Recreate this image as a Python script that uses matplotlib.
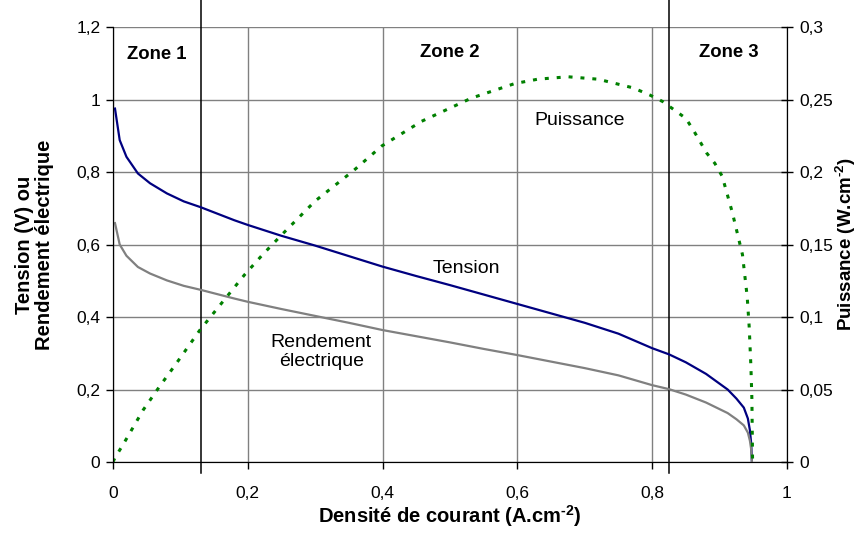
import matplotlib
matplotlib.use("Agg")
import matplotlib.pyplot as plt

plt.rcParams['font.family'] = ['Liberation Sans', 'DejaVu Sans']
plt.rcParams['mathtext.fontset'] = 'custom'
plt.rcParams['mathtext.rm'] = 'Liberation Sans:bold'
plt.rcParams['mathtext.bf'] = 'Liberation Sans:bold'

# courbe de polarisation
x_v = [0.003, 0.01, 0.02, 0.037, 0.055, 0.08, 0.105, 0.13, 0.18, 0.2, 0.25, 0.3,
       0.35, 0.4, 0.45, 0.5, 0.55, 0.6, 0.65, 0.7, 0.75, 0.8, 0.825, 0.85, 0.88,
       0.912, 0.925, 0.936, 0.942, 0.945, 0.947, 0.948]
tension = [0.975, 0.888, 0.842, 0.796, 0.769, 0.741, 0.719, 0.703, 0.667, 0.654,
           0.624, 0.597, 0.568, 0.539, 0.513, 0.488, 0.462, 0.436, 0.41, 0.384,
           0.354, 0.314, 0.297, 0.275, 0.243, 0.20, 0.175, 0.15, 0.12, 0.088,
           0.05, 0.0]
rendement = [0.659, 0.600, 0.569, 0.538, 0.520, 0.501, 0.486, 0.475, 0.451, 0.442,
             0.422, 0.403, 0.384, 0.364, 0.347, 0.330, 0.312, 0.295, 0.277, 0.259,
             0.239, 0.212, 0.201, 0.186, 0.164, 0.135, 0.118, 0.101, 0.081, 0.059,
             0.034, 0.0]

# puissance (axe de droite)
x_p = [0.0, 0.003, 0.015, 0.045, 0.069, 0.094, 0.129, 0.155, 0.195, 0.222, 0.251,
       0.3, 0.357, 0.399, 0.458, 0.532, 0.596, 0.63, 0.675, 0.72, 0.772, 0.797,
       0.816, 0.85, 0.861, 0.881, 0.893, 0.904, 0.919, 0.934, 0.941, 0.944,
       0.9465, 0.948, 0.949]
puissance = [0.0, 0.003, 0.012, 0.036, 0.052, 0.068, 0.091, 0.106, 0.129, 0.143,
             0.157, 0.180, 0.201, 0.218, 0.235, 0.251, 0.261, 0.264, 0.2657, 0.264,
             0.258, 0.253, 0.2485, 0.237, 0.229, 0.213, 0.206, 0.197, 0.172, 0.143,
             0.114, 0.093, 0.066, 0.043, 0.0]

x_ticks = [0, 0.2, 0.4, 0.6, 0.8, 1.0]
x_labels = ['0', '0,2', '0,4', '0,6', '0,8', '1']
y_ticks = [0, 0.2, 0.4, 0.6, 0.8, 1.0, 1.2]
y_labels = ['0', '0,2', '0,4', '0,6', '0,8', '1', '1,2']
y2_ticks = [0, 0.05, 0.1, 0.15, 0.2, 0.25, 0.3]
y2_labels = ['0', '0,05', '0,1', '0,15', '0,2', '0,25', '0,3']
zones = [0.13, 0.825]

fig = plt.figure(figsize=(8.61, 5.33), dpi=100)
ax = fig.add_axes([0.1312, 0.1332, 0.7828, 0.8161])
ax2 = ax.twinx()

ax.set_xlim(0, 1)
ax.set_ylim(0, 1.2)
ax2.set_ylim(0, 0.3)

ax.set_xticks(x_ticks)
ax.set_xticklabels(x_labels, fontsize=12.5)
ax.set_yticks(y_ticks)
ax.set_yticklabels(y_labels, fontsize=12.5)
ax2.set_yticks(y2_ticks)
ax2.set_yticklabels(y2_labels, fontsize=12.5)

ax.grid(True, color='#808080', lw=1)
ax.set_axisbelow(True)

for z in zones:
    ax.axvline(z, ymin=-0.025, ymax=1.065, color='black', lw=1.1, clip_on=False)

ax.plot(x_v, tension, color='#000080', lw=1.6)
ax.plot(x_v, rendement, color='#808080', lw=1.6)
ax2.plot(x_p, puissance, color='#008000', lw=2.2, linestyle=(0, (1.3, 2.6)))

for a in (ax, ax2):
    a.spines['top'].set_visible(False)
ax.spines['left'].set_color('black')
ax.spines['bottom'].set_color('#404040')
ax2.spines['right'].set_color('black')
ax.tick_params(axis='both', direction='out', length=5, width=1, colors='black', pad=4)
ax.tick_params(axis='x', pad=12)
ax2.tick_params(axis='y', direction='inout', length=8, width=1, colors='black', pad=5)

ax.set_xlabel('Densité de courant (A.cm$^{\\text{-2}}$)', fontsize=14.5,
              fontweight='bold', labelpad=2)
ax.set_ylabel('Tension (V) ou\nRendement électrique', fontsize=14.5,
              fontweight='bold', labelpad=16, linespacing=1.05)
ax2.set_ylabel('Puissance (W.cm$^{\\text{-2}}$)', fontsize=13.5,
               fontweight='bold', labelpad=0)

ax.text(0.065, 1.123, 'Zone 1', ha='center', va='center', fontsize=13.3, fontweight='bold')
ax.text(0.499, 1.13, 'Zone 2', ha='center', va='center', fontsize=13.3, fontweight='bold')
ax.text(0.914, 1.13, 'Zone 3', ha='center', va='center', fontsize=13.3, fontweight='bold')
ax.text(0.525, 0.535, 'Tension', ha='center', va='center', fontsize=14)
ax.text(0.692, 0.943, 'Puissance', ha='center', va='center', fontsize=14)
ax.text(0.309, 0.303, 'Rendement\nélectrique', ha='center', va='center', fontsize=14,
        linespacing=1.15)

fig.savefig('out.png', dpi=100)
